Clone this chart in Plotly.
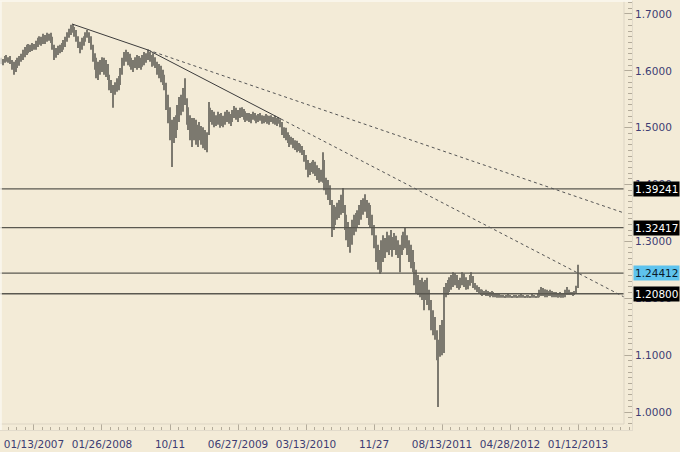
import plotly.graph_objects as go

# Weekly bar highs / lows
highs = [
    1.623, 1.621, 1.626, 1.628, 1.624, 1.626, 1.619, 1.616, 1.619, 1.623,
    1.626, 1.630, 1.637, 1.642, 1.646, 1.647, 1.646, 1.649, 1.647, 1.653,
    1.658, 1.661, 1.660, 1.665, 1.663, 1.667, 1.665, 1.667, 1.660, 1.646,
    1.640, 1.644, 1.646, 1.649, 1.654, 1.660, 1.668, 1.674, 1.681, 1.682,
    1.677, 1.672, 1.661, 1.651, 1.658, 1.661, 1.668, 1.672, 1.668, 1.661,
    1.646, 1.631, 1.623, 1.616, 1.619, 1.624, 1.623, 1.619, 1.612, 1.593,
    1.584, 1.575, 1.580, 1.587, 1.591, 1.605, 1.623, 1.633, 1.637, 1.633,
    1.630, 1.623, 1.619, 1.624, 1.628, 1.626, 1.623, 1.628, 1.633, 1.631,
    1.637, 1.633, 1.628, 1.631, 1.624, 1.616, 1.612, 1.609, 1.602, 1.593,
    1.579, 1.558, 1.536, 1.514, 1.519, 1.522, 1.540, 1.554, 1.558, 1.570,
    1.587, 1.552, 1.536, 1.522, 1.517, 1.517, 1.514, 1.505, 1.510, 1.503,
    1.501, 1.496, 1.492, 1.545, 1.535, 1.531, 1.528, 1.522, 1.528, 1.524,
    1.526, 1.521, 1.528, 1.531, 1.528, 1.524, 1.531, 1.538, 1.535, 1.531,
    1.535, 1.536, 1.533, 1.529, 1.526, 1.526, 1.524, 1.528, 1.526, 1.522,
    1.524, 1.526, 1.522, 1.521, 1.524, 1.522, 1.521, 1.522, 1.519, 1.521,
    1.517, 1.519, 1.515, 1.510, 1.501, 1.500, 1.492, 1.487, 1.484, 1.482,
    1.478, 1.477, 1.473, 1.471, 1.468, 1.461, 1.452, 1.443, 1.438, 1.440,
    1.443, 1.440, 1.434, 1.429, 1.426, 1.457, 1.443, 1.412, 1.408, 1.399,
    1.373, 1.364, 1.361, 1.368, 1.373, 1.382, 1.394, 1.364, 1.347, 1.334,
    1.324, 1.338, 1.347, 1.350, 1.355, 1.364, 1.373, 1.376, 1.383, 1.373,
    1.368, 1.364, 1.347, 1.329, 1.311, 1.294, 1.285, 1.302, 1.311, 1.306,
    1.317, 1.311, 1.320, 1.308, 1.315, 1.310, 1.302, 1.294, 1.311, 1.317,
    1.324, 1.311, 1.302, 1.294, 1.285, 1.264, 1.250, 1.241, 1.232, 1.236,
    1.229, 1.232, 1.236, 1.215, 1.197, 1.179, 1.167, 1.144, 1.127, 1.153,
    1.162, 1.220, 1.227, 1.232, 1.237, 1.241, 1.246, 1.244, 1.241, 1.232,
    1.236, 1.246, 1.243, 1.237, 1.232, 1.241, 1.246, 1.239, 1.227, 1.223,
    1.220, 1.216, 1.215, 1.213, 1.215, 1.213, 1.211, 1.213, 1.211, 1.209,
    1.209, 1.208, 1.206, 1.206, 1.204, 1.206, 1.208, 1.206, 1.204, 1.206,
    1.206, 1.204, 1.206, 1.208, 1.206, 1.204, 1.206, 1.206, 1.204, 1.208,
    1.206, 1.204, 1.209, 1.215, 1.220, 1.218, 1.216, 1.215, 1.213, 1.215,
    1.213, 1.211, 1.211, 1.209, 1.211, 1.209, 1.208, 1.215, 1.220, 1.215,
    1.211, 1.211, 1.213, 1.222, 1.259,
]
lows = [
    1.612, 1.610, 1.614, 1.616, 1.614, 1.612, 1.602, 1.593, 1.598, 1.605,
    1.609, 1.616, 1.619, 1.624, 1.628, 1.631, 1.633, 1.635, 1.637, 1.637,
    1.642, 1.646, 1.644, 1.647, 1.647, 1.651, 1.653, 1.649, 1.637, 1.619,
    1.623, 1.628, 1.631, 1.633, 1.637, 1.642, 1.651, 1.658, 1.663, 1.667,
    1.660, 1.651, 1.640, 1.631, 1.637, 1.644, 1.651, 1.658, 1.649, 1.637,
    1.616, 1.602, 1.587, 1.584, 1.593, 1.598, 1.593, 1.589, 1.584, 1.566,
    1.561, 1.535, 1.558, 1.563, 1.566, 1.575, 1.593, 1.609, 1.616, 1.610,
    1.607, 1.602, 1.598, 1.605, 1.602, 1.605, 1.602, 1.607, 1.610, 1.614,
    1.619, 1.616, 1.607, 1.609, 1.605, 1.593, 1.587, 1.580, 1.575, 1.566,
    1.531, 1.508, 1.478, 1.431, 1.473, 1.482, 1.496, 1.510, 1.522, 1.528,
    1.540, 1.505, 1.496, 1.478, 1.466, 1.478, 1.470, 1.466, 1.478, 1.470,
    1.464, 1.461, 1.457, 1.487, 1.510, 1.505, 1.501, 1.503, 1.505, 1.500,
    1.503, 1.501, 1.505, 1.510, 1.507, 1.503, 1.510, 1.517, 1.514, 1.510,
    1.517, 1.519, 1.514, 1.510, 1.512, 1.510, 1.508, 1.514, 1.512, 1.508,
    1.510, 1.512, 1.507, 1.508, 1.510, 1.507, 1.505, 1.510, 1.507, 1.505,
    1.503, 1.507, 1.501, 1.487, 1.482, 1.478, 1.473, 1.466, 1.470, 1.464,
    1.461, 1.457, 1.459, 1.456, 1.452, 1.440, 1.426, 1.413, 1.417, 1.422,
    1.419, 1.415, 1.408, 1.403, 1.405, 1.403, 1.390, 1.382, 1.373, 1.364,
    1.308, 1.320, 1.329, 1.338, 1.341, 1.347, 1.350, 1.320, 1.302, 1.290,
    1.280, 1.294, 1.311, 1.317, 1.324, 1.329, 1.338, 1.347, 1.352, 1.341,
    1.329, 1.324, 1.311, 1.288, 1.264, 1.250, 1.243, 1.246, 1.264, 1.271,
    1.281, 1.276, 1.285, 1.273, 1.285, 1.276, 1.271, 1.246, 1.276, 1.285,
    1.288, 1.276, 1.264, 1.253, 1.246, 1.223, 1.209, 1.206, 1.202, 1.197,
    1.179, 1.197, 1.188, 1.179, 1.144, 1.135, 1.127, 1.091, 1.009, 1.097,
    1.100, 1.104, 1.202, 1.206, 1.211, 1.215, 1.220, 1.223, 1.218, 1.215,
    1.218, 1.223, 1.220, 1.215, 1.216, 1.222, 1.227, 1.218, 1.215, 1.211,
    1.209, 1.206, 1.204, 1.206, 1.204, 1.204, 1.202, 1.204, 1.202, 1.202,
    1.201, 1.201, 1.201, 1.201, 1.201, 1.201, 1.201, 1.201, 1.201, 1.201,
    1.201, 1.201, 1.201, 1.201, 1.201, 1.201, 1.201, 1.201, 1.201, 1.201,
    1.201, 1.201, 1.201, 1.202, 1.204, 1.204, 1.202, 1.202, 1.204, 1.204,
    1.202, 1.202, 1.202, 1.201, 1.202, 1.201, 1.201, 1.202, 1.206, 1.206,
    1.206, 1.204, 1.206, 1.208, 1.218,
]

tick_idx = [18, 55, 92, 129, 166, 203, 240, 277, 314]
tick_text = ["01/13/2007", "01/26/2008", "10/11", "06/27/2009", "03/13/2010",
             "11/27", "08/13/2011", "04/28/2012", "01/12/2013"]

levels = [1.39241, 1.32417, 1.24412, 1.20800]
level_labels = ["1.39241", "1.32417", "1.24412", "1.20800"]
level_bg = ["#000000", "#000000", "#5ec3ee", "#000000"]
level_fg = ["#ffffff", "#ffffff", "#0a1a2a", "#ffffff"]

# trend line anchors: (bar index, price)
tl_peak = (38.7, 1.6824)
tl_mid = (80.0, 1.6367)
tl_end = (152.4, 1.5153)
x_right = 339.0

BG = "#f3ebd7"
BAR = "#7c796f"
AXC = "#b3ab9a"
LBL = "#3d3d73"
FONT = "DejaVu Sans"

x_idx = list(range(len(highs)))
spans = [h - l for h, l in zip(highs, lows)]

fig = go.Figure()
fig.add_trace(go.Bar(
    x=x_idx, y=spans, base=lows, width=0.55,
    marker=dict(color=BAR, line=dict(width=0)),
    hoverinfo="skip", showlegend=False,
))

def extend(p0, p1, xr):
    slope = (p1[1] - p0[1]) / (p1[0] - p0[0])
    return p1[1] + slope * (xr - p1[0])

shapes = []
for lv in levels:
    shapes.append(dict(type="line", xref="paper", yref="y", x0=0, x1=624 / 632,
                       y0=lv, y1=lv, line=dict(color="#5a5850", width=1.3)))
shapes.append(dict(type="line", xref="x", yref="y", x0=tl_peak[0], y0=tl_peak[1],
                   x1=tl_mid[0], y1=tl_mid[1], line=dict(color="#3c3c3c", width=1)))
shapes.append(dict(type="line", xref="x", yref="y", x0=tl_mid[0], y0=tl_mid[1],
                   x1=tl_end[0], y1=tl_end[1], line=dict(color="#3c3c3c", width=1)))
shapes.append(dict(type="line", xref="x", yref="y", x0=tl_mid[0], y0=tl_mid[1],
                   x1=x_right, y1=extend(tl_peak, tl_mid, x_right),
                   line=dict(color="#555555", width=1, dash="dot")))
shapes.append(dict(type="line", xref="x", yref="y", x0=tl_end[0], y0=tl_end[1],
                   x1=x_right, y1=extend(tl_mid, tl_end, x_right),
                   line=dict(color="#555555", width=1, dash="dot")))
shapes.append(dict(type="line", xref="paper", yref="paper", x0=624 / 632, x1=624 / 632,
                   y0=6 / 429, y1=1, line=dict(color="#ddd5c4", width=1)))
shapes.append(dict(type="line", xref="paper", yref="paper", x0=0, x1=624 / 632,
                   y0=6 / 429, y1=6 / 429, line=dict(color="#ddd5c4", width=1)))
shapes.append(dict(type="line", xref="paper", yref="paper", x0=0, x1=1,
                   y0=1, y1=1, line=dict(color="#fbf8f0", width=1.5)))
shapes.append(dict(type="line", xref="paper", yref="paper", x0=0.0015, x1=0.0015,
                   y0=0, y1=1, line=dict(color="#fbf8f0", width=1.5)))

annotations = []
for lv, txt, bg, fg in zip(levels, level_labels, level_bg, level_fg):
    annotations.append(dict(
        xref="paper", yref="y", x=1, y=lv, xanchor="left", yanchor="middle",
        xshift=1, text=txt, showarrow=False, bgcolor=bg, borderpad=1,
        font=dict(family=FONT, size=10.5, color=fg),
    ))

fig.update_layout(
    width=680, height=452,
    margin=dict(l=0, r=48, t=1, b=22, autoexpand=False),
    paper_bgcolor=BG, plot_bgcolor=BG,
    shapes=shapes, annotations=annotations,
    showlegend=False,
    font=dict(family=FONT, size=10.5, color=LBL),
    xaxis=dict(
        range=[-0.49, 343.36], tickmode="array", tickvals=tick_idx, ticktext=tick_text,
        ticks="inside", ticklen=6, tickcolor=AXC, showline=True, linecolor="#e2dbcb",
        showgrid=False, zeroline=False, tickfont=dict(family=FONT, size=10.5, color=LBL),
        ticklabelstandoff=4, automargin=False,
        minor=dict(tickmode="linear", tick0=18, dtick=37 / 8, ticks="inside",
                   ticklen=3, tickcolor=AXC, showgrid=False),
    ),
    yaxis=dict(
        range=[0.9684, 1.7228], side="right", tickmode="linear", tick0=1.0, dtick=0.1,
        tickformat=".4f", ticks="inside", ticklen=8, tickcolor=AXC, showline=True,
        linecolor="#e2dbcb", showgrid=False, zeroline=False, automargin=False,
        tickfont=dict(family=FONT, size=10.5, color=LBL),
        minor=dict(dtick=0.01, ticks="inside", ticklen=4, tickcolor=AXC, showgrid=False),
    ),
)

fig.write_html("out.html", config={"displayModeBar": False},
               post_script="document.body.style.margin='0';document.body.style.overflow='hidden';")
